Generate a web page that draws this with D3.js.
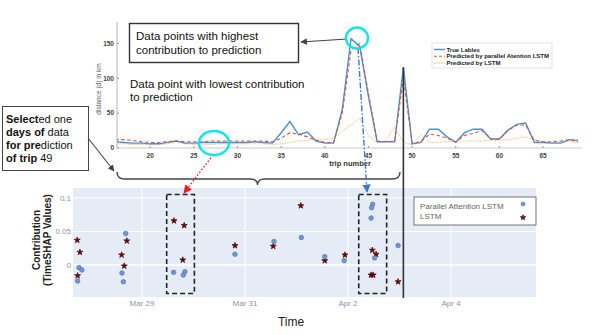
<!DOCTYPE html>
<html><head><meta charset="utf-8">
<script src="https://cdn.jsdelivr.net/npm/d3@7"></script>
<style>
body{margin:0;background:#fff}
svg{display:block;font-family:"Liberation Sans",Arial,sans-serif}
</style>
</head><body>
<svg id="c" width="598" height="335"></svg>
<script>
// ---------- top chart data ----------
const trips = d3.range(16, 70);
const trueLabels = [9,8,7,7,6,6,8,10,7,7,8,8,8,8,8,8,9,8,7,22,38,19,23,10,7,7,55,157,146,74,9,9,9,116,6,8,27,27,16,8,22,27,27,13,13,26,34,36,8,8,7,7,12,11];
const parallelAttnPred = [12,12,11,9,8,8,9,10,9,9,9,10,10,10,10,10,10,10,9,14,22,20,16,11,8,8,50,140,150,78,10,9,10,100,7,9,20,18,14,9,18,21,25,13,13,25,33,33,11,9,9,10,12,9];
const lstmPred = [6,6,5,5,5,5,6,9,6,5,5,5,6,6,6,6,6,6,5,6,8,10,11,12,12,14,24,33,43,18,8,10,30,8,5,19,8,8,9,10,10,10,10,11,11,12,14,16,12,10,8,8,9,8];
const topXTicks = [20,25,30,35,40,45,50,55,60,65];
const topYTicks = [0,50,100,150];
const topLegend = ["True Lables","Predicted by parallel Atention LSTM","Predicted by LSTM"];

// ---------- bottom chart data ----------
const paTimes = ["2021-03-27 18:40","2021-03-27 20:00","2021-03-27 18:00","2021-03-28 16:25","2021-03-28 14:40","2021-03-28 15:20","2021-03-29 14:45","2021-03-29 20:00","2021-03-29 19:15","2021-03-30 19:20","2021-03-31 13:30","2021-04-01 02:15","2021-04-01 13:10","2021-04-01 22:15","2021-04-02 11:30","2021-04-02 11:00","2021-04-02 10:45","2021-04-02 12:25","2021-04-02 23:20"];
const paValues = [-0.004,-0.0075,-0.024,0.047,-0.012,-0.025,-0.011,-0.010,-0.015,0.016,0.035,0.041,0.0125,0.0065,0.0905,0.0855,0.070,0.0105,0.029];
const lstmTimes = ["2021-03-27 17:50","2021-03-27 19:05","2021-03-27 18:00","2021-03-28 14:30","2021-03-28 16:55","2021-03-28 15:45","2021-03-29 14:55","2021-03-29 19:40","2021-03-29 19:00","2021-03-30 19:20","2021-03-31 13:10","2021-04-01 02:00","2021-04-01 13:10","2021-04-01 22:35","2021-04-02 11:20","2021-04-02 13:05","2021-04-02 10:45","2021-04-02 11:45","2021-04-02 23:20"];
const lstmValues = [0.037,0.019,-0.016,0.015,0.036,-0.0015,0.066,0.059,0.0075,0.029,0.028,0.0885,0.0065,0.015,0.022,0.016,-0.015,-0.015,-0.025];
const dateTicks = ["2021-03-29 00:00","2021-03-31 00:00","2021-04-02 00:00","2021-04-04 00:00"];
const bottomYTicks = [0,0.05,0.1];
const bottomLegend = ["Parallel Attention LSTM","LSTM"];
const highlightWindows = [["2021-03-29 11:30","2021-03-30 00:25"],["2021-04-02 05:00","2021-04-02 18:00"]];

const parse = d3.timeParse("%Y-%m-%d %H:%M");
const svg = d3.select("#c");

// defs
const defs = svg.append("defs");
function marker(id, color){
  defs.append("marker").attr("id",id).attr("viewBox","0 0 10 10").attr("refX",9).attr("refY",5)
   .attr("markerWidth",6).attr("markerHeight",6).attr("orient","auto-start-reverse")
   .append("path").attr("d","M0,0 L10,5 L0,10 z").attr("fill",color);
}
marker("arBlack","#444"); marker("arRed","#ee1c1c"); marker("arBlue","#3a78d8");
defs.append("clipPath").attr("id","clipTop").append("rect").attr("x",117).attr("y",10).attr("width",465).attr("height",140);

// ---------- TOP CHART ----------
const xT = d3.scaleLinear().domain([16.2,69.4]).range([117,581.5]);
const yT = d3.scaleLinear().domain([0,181]).range([148,22]);
const gT = svg.append("g");

gT.append("line").attr("x1",117).attr("x2",117).attr("y1",22).attr("y2",148).attr("stroke","#b8b8b8");
gT.append("line").attr("x1",117).attr("x2",581.5).attr("y1",148).attr("y2",148).attr("stroke","#c8c8c8");
gT.selectAll(".yt").data(topYTicks).join("text").attr("x",114).attr("y",d=>yT(d)).attr("dy","0.35em")
  .attr("text-anchor","end").attr("font-size",6.5).attr("font-weight","bold").attr("fill","#444").text(d=>d);
gT.selectAll(".xt").data(topXTicks).join("text").attr("x",d=>xT(d)).attr("y",157.5)
  .attr("text-anchor","middle").attr("font-size",6.5).attr("font-weight","bold").attr("fill","#444").text(d=>d);
gT.selectAll(".xtm").data(topXTicks).join("line").attr("x1",d=>xT(d)).attr("x2",d=>xT(d)).attr("y1",148).attr("y2",146).attr("stroke","#999");
gT.selectAll(".ytm").data(topYTicks).join("line").attr("x1",117).attr("x2",119).attr("y1",d=>yT(d)).attr("y2",d=>yT(d)).attr("stroke","#999");
gT.append("text").attr("x",350).attr("y",166).attr("text-anchor","middle").attr("font-size",7.5).attr("font-weight","bold").attr("fill","#333").text("trip number");
gT.append("text").attr("transform","translate(101,89) rotate(-90)").attr("text-anchor","middle").attr("font-size",6.5).attr("fill","#555").text("distance (d) in km");

const lineGen = arr => d3.line().x((d,i)=>xT(trips[i])).y(d=>yT(d))(arr);
const lines = gT.append("g").attr("clip-path","url(#clipTop)");
lines.append("path").attr("d",lineGen(lstmPred)).attr("fill","none").attr("stroke","#f6c77a").attr("stroke-width",1).attr("stroke-dasharray","1.5,1");
lines.append("path").attr("d",lineGen(trueLabels)).attr("fill","none").attr("stroke","#4a8fd0").attr("stroke-width",1.4);
lines.append("path").attr("d",lineGen(parallelAttnPred)).attr("fill","none").attr("stroke","#d9573f").attr("stroke-width",1.1).attr("stroke-dasharray","3.5,2.5");

// top legend
const lg = gT.append("g");
lg.append("rect").attr("x",432).attr("y",43).attr("width",120).attr("height",25).attr("fill","#fff").attr("stroke","#ddd").attr("stroke-width",0.8);
const lstyles = [{c:"#4a8fd0",d:null,w:1.4},{c:"#e2573f",d:"3,2",w:1.1},{c:"#f6c77a",d:"1.5,1",w:1.1}];
topLegend.forEach((t,i)=>{
  const yy = 49.5 + i*6.8;
  lg.append("line").attr("x1",434).attr("x2",445).attr("y1",yy).attr("y2",yy).attr("stroke",lstyles[i].c).attr("stroke-width",lstyles[i].w).attr("stroke-dasharray",lstyles[i].d);
  lg.append("text").attr("x",446.5).attr("y",yy).attr("dy","0.35em").attr("font-size",6).attr("font-weight","bold").attr("fill","#222").text(t);
});

// ---------- BOTTOM CHART ----------
const xB = d3.scaleTime().domain([parse("2021-03-27 15:51"),parse("2021-04-05 15:36")]).range([73,536]);
const yB = d3.scaleLinear().domain([-0.0478,0.1149]).range([297,188]);
const gB = svg.append("g");
gB.append("rect").attr("x",73).attr("y",188).attr("width",463).attr("height",109).attr("fill","#e5ecf6");
gB.selectAll(".vg").data(dateTicks).join("line").attr("x1",d=>xB(parse(d))).attr("x2",d=>xB(parse(d))).attr("y1",188).attr("y2",297).attr("stroke","#fff").attr("stroke-width",1);
gB.selectAll(".hg").data(bottomYTicks).join("line").attr("x1",73).attr("x2",536).attr("y1",d=>yB(d)).attr("y2",d=>yB(d)).attr("stroke","#fff").attr("stroke-width",d=>d===0?1.6:1);
gB.selectAll(".bxt").data(dateTicks).join("text").attr("x",d=>xB(parse(d))).attr("y",303).attr("dy","0.35em").attr("text-anchor","middle")
  .attr("font-size",8).attr("fill","#8795ab").text(d=>d3.timeFormat("%b %-d")(parse(d)));
gB.selectAll(".byt").data(bottomYTicks).join("text").attr("x",71).attr("y",d=>yB(d)).attr("dy","0.35em").attr("text-anchor","end")
  .attr("font-size",8).attr("fill","#8795ab").text(d=>d3.format("~g")(d));
gB.append("text").attr("x",291).attr("y",326).attr("text-anchor","middle").attr("font-size",12).attr("fill","#222").text("Time");
gB.append("text").attr("transform","translate(40,240) rotate(-90)").attr("text-anchor","middle").attr("font-size",10).attr("font-weight","bold").attr("fill","#222").text("Contribution");
gB.append("text").attr("transform","translate(51,240) rotate(-90)").attr("text-anchor","middle").attr("font-size",10).attr("font-weight","bold").attr("fill","#222").text("(TimeSHAP  Values)");

const star = d3.symbol().type(d3.symbolStar).size(11);
gB.selectAll(".lp").data(lstmTimes.map((t,i)=>[parse(t),lstmValues[i]])).join("path")
  .attr("transform",d=>`translate(${xB(d[0])},${yB(d[1])})`).attr("d",star).attr("fill","#5c0b0b").attr("stroke","#5c0b0b").attr("stroke-width",0.8);
gB.selectAll(".pp").data(paTimes.map((t,i)=>[parse(t),paValues[i]])).join("circle")
  .attr("cx",d=>xB(d[0])).attr("cy",d=>yB(d[1])).attr("r",2.3).attr("fill","#7396d4").attr("stroke","#4d6aa6").attr("stroke-width",0.6);

// highlight windows
gB.selectAll(".hw").data(highlightWindows).join("rect")
  .attr("x",d=>xB(parse(d[0]))).attr("width",d=>xB(parse(d[1]))-xB(parse(d[0])))
  .attr("y",194.5).attr("height",99).attr("fill","none").attr("stroke","#222").attr("stroke-width",1.6).attr("stroke-dasharray","5,3");

// bottom legend
const bl = gB.append("g");
bl.append("rect").attr("x",414).attr("y",197).attr("width",122).attr("height",28).attr("fill","#fff").attr("stroke","#555").attr("stroke-width",0.8);
bl.append("text").attr("x",420).attr("y",206).attr("dy","0.35em").attr("font-size",8).attr("fill","#666").text(bottomLegend[0]);
bl.append("text").attr("x",420).attr("y",216).attr("dy","0.35em").attr("font-size",8).attr("fill","#666").text(bottomLegend[1]);
bl.append("circle").attr("cx",523).attr("cy",204).attr("r",2).attr("fill","#7396d4").attr("stroke","#4d6aa6").attr("stroke-width",0.5);
bl.append("path").attr("transform","translate(523,217.5)").attr("d",d3.symbol().type(d3.symbolStar).size(9)).attr("fill","#5c0b0b").attr("stroke","#5c0b0b").attr("stroke-width",0.8);

// ---------- ANNOTATIONS ----------
const ann = svg.append("g");
// vertical line at trip 49
ann.append("line").attr("x1",xT(49)).attr("x2",xT(49)).attr("y1",yT(trueLabels[trips.indexOf(49)])).attr("y2",298).attr("stroke","#333").attr("stroke-width",1.6);

// box: highest contribution
ann.append("rect").attr("x",129.5).attr("y",23.5).attr("width",169).attr("height",39).attr("fill","#fff").attr("stroke","#333").attr("stroke-width",1.4);
ann.append("text").attr("x",136).attr("y",40).attr("font-size",11.5).attr("fill","#111").text("Data points with highest");
ann.append("text").attr("x",136).attr("y",53.5).attr("font-size",11.5).attr("fill","#111").text("contribution to prediction");
ann.append("text").attr("x",130).attr("y",87.5).attr("font-size",11.5).attr("fill","#111").text("Data point with lowest contribution");
ann.append("text").attr("x",130).attr("y",101).attr("font-size",11.5).attr("fill","#111").text("to prediction");

// arrow from ellipse to box
ann.append("line").attr("x1",347).attr("y1",39).attr("x2",301).attr("y2",42).attr("stroke","#444").attr("stroke-width",1.1).attr("marker-end","url(#arBlack)");

// selected box
ann.append("rect").attr("x",2.5).attr("y",106.5).attr("width",86).attr("height",64).attr("fill","#fff").attr("stroke","#444").attr("stroke-width",1);
const selLines = [[["Select",true],["ed one",false]],[["days of",true],[" data",false]],[["for pre",true],["diction",false]],[["of trip",true],[" 49",false]]];
selLines.forEach((ln,i)=>{
  const t = ann.append("text").attr("x",6).attr("y",122.5+i*13.1).attr("font-size",11).attr("fill","#111");
  ln.forEach(s=>t.append("tspan").attr("font-weight",s[1]?"bold":"normal").text(s[0]));
});
ann.append("line").attr("x1",88).attr("y1",138).attr("x2",114).attr("y2",171).attr("stroke","#444").attr("stroke-width",1.1).attr("marker-end","url(#arBlack)");

// brace
ann.append("path").attr("d","M117,172 Q117,179 125,179 L250,179 Q257.5,179 257.5,185 Q257.5,179 265,179 L392,179 Q400,179 400,172")
  .attr("fill","none").attr("stroke","#444").attr("stroke-width",1.4);

// dotted red arrow and dash-dot blue arrow
ann.append("line").attr("x1",213).attr("y1",155).attr("x2",184).attr("y2",193).attr("stroke","#ee1c1c").attr("stroke-width",1.4).attr("stroke-dasharray","1.5,2").attr("marker-end","url(#arRed)");
ann.append("line").attr("x1",358).attr("y1",48).attr("x2",367).attr("y2",192).attr("stroke","#3a78d8").attr("stroke-width",1.4).attr("stroke-dasharray","6,2,1.5,2").attr("marker-end","url(#arBlue)");

// cyan ellipses
ann.append("ellipse").attr("cx",357).attr("cy",38).attr("rx",11).attr("ry",10.5).attr("fill","none").attr("stroke","#10e4ec").attr("stroke-width",2.4);
ann.append("ellipse").attr("cx",214).attr("cy",143).attr("rx",15).attr("ry",12).attr("fill","none").attr("stroke","#10e4ec").attr("stroke-width",2.4);
</script>
</body></html>
